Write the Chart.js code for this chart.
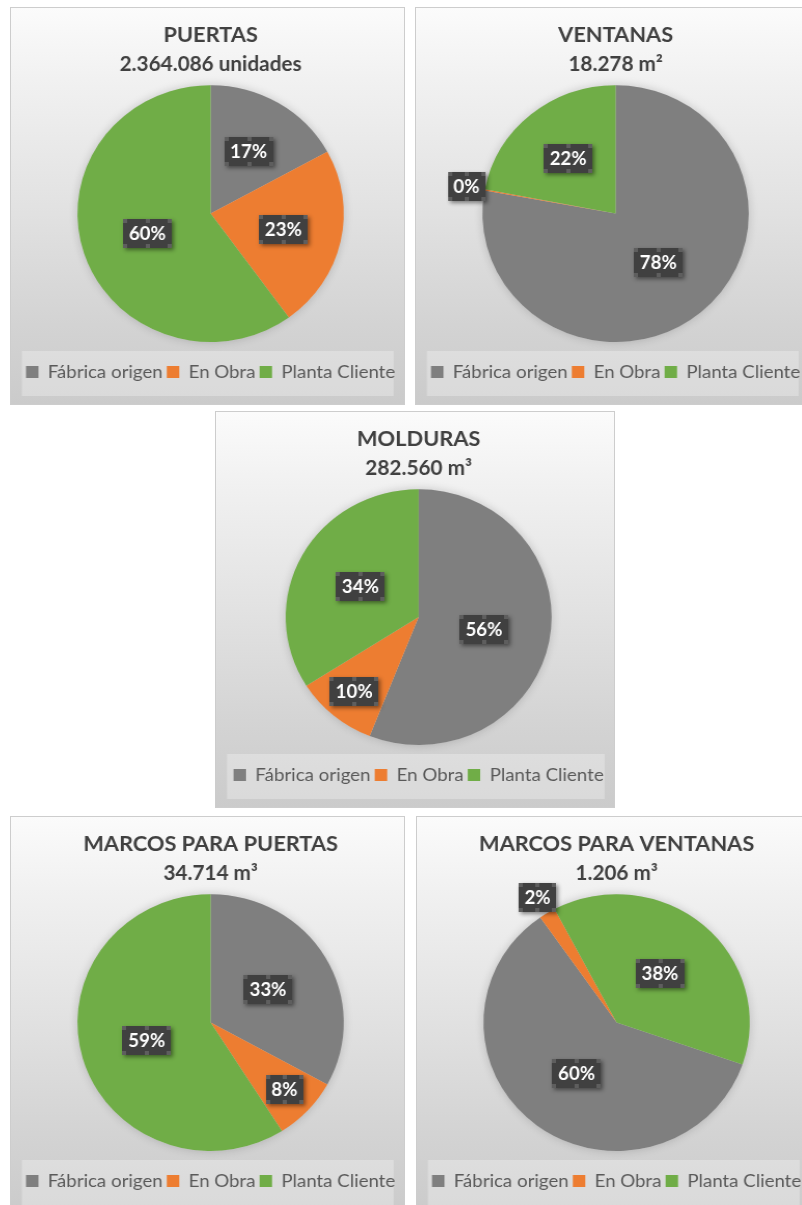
<!DOCTYPE html>
<html>
<head>
<meta charset="utf-8">
<script src="https://cdn.jsdelivr.net/npm/chart.js@4.4.1/dist/chart.umd.min.js"></script>
<style>
  html, body { margin: 0; padding: 0; background: #ffffff; }
  body { width: 802px; height: 1205px; overflow: hidden; position: relative; }
  .panel {
    position: absolute; box-sizing: border-box; overflow: hidden;
    border: 1px solid #cdcdcd;
    background: linear-gradient(180deg, #fbfbfb 0%, #f1f1f1 18%, #e2e2e2 50%, #d3d3d3 80%, #cbcbcb 100%);
  }
  .inner { position: absolute; left: 0; top: 0; transform-origin: 0 0; transform: scaleX(1.037); }
</style>
</head>
<body>
<div class="panel" id="p1" style="left:10px;top:7px;width:395px;height:398px"><div class="inner"><canvas id="c1"></canvas></div></div>
<div class="panel" id="p2" style="left:415px;top:7px;width:395px;height:398px"><div class="inner"><canvas id="c2"></canvas></div></div>
<div class="panel" id="p3" style="left:215px;top:411px;width:400px;height:397px"><div class="inner"><canvas id="c3"></canvas></div></div>
<div class="panel" id="p4" style="left:10px;top:816px;width:395px;height:398px"><div class="inner"><canvas id="c4"></canvas></div></div>
<div class="panel" id="p5" style="left:416px;top:816px;width:395px;height:398px"><div class="inner"><canvas id="c5"></canvas></div></div>
<script>
// ---------- DATA ----------
const categories = ['Fábrica origen', 'En Obra', 'Planta Cliente'];

const chartTitles = ['PUERTAS', 'VENTANAS', 'MOLDURAS', 'MARCOS PARA PUERTAS', 'MARCOS PARA VENTANAS'];
const chartSubtitles = ['2.364.086 unidades', '18.278 m²', '282.560 m³', '34.714 m³', '1.206 m³'];

// shares (%) per category: Fábrica origen, En Obra, Planta Cliente
const puertasValues        = [17, 23, 60];
const ventanasValues       = [78, 0.15, 22];
const moldurasValues       = [56, 10, 34];
const marcosPuertasValues  = [33, 8, 59];
const marcosVentanasValues = [60, 2, 38];

const firstSliceAngles = [0, 0, 0, 0, 109];

// ---------- STYLE ----------
const sliceColors = ['#7f7f7f', '#ed7d31', '#70ad47'];
const SCALE_X = 1.037;
Chart.defaults.font.family = 'Lato, "Open Sans", sans-serif';

// soft shadow under the pie
const pieShadow = {
  id: 'pieShadow',
  beforeDatasetsDraw(chart) {
    const arc = chart.getDatasetMeta(0).data[0];
    if (!arc) return;
    const { x, y, outerRadius } = arc.getProps(['x', 'y', 'outerRadius'], true);
    const ctx = chart.ctx;
    ctx.save();
    ctx.shadowColor = 'rgba(0,0,0,0.18)';
    ctx.shadowBlur = 10;
    ctx.beginPath();
    ctx.arc(x, y, outerRadius, 0, Math.PI * 2);
    ctx.fillStyle = '#d0d0d0';
    ctx.fill();
    ctx.restore();
  }
};

// light box behind the legend
const legendBox = {
  id: 'legendBox',
  beforeDraw(chart) {
    const lg = chart.legend;
    if (!lg) return;
    const ctx = chart.ctx;
    ctx.save();
    ctx.fillStyle = 'rgba(255,255,255,0.28)';
    ctx.fillRect(10.5, lg.top + 9, chart.width - 20.5, 45);
    ctx.restore();
  }
};

// dark percentage label boxes
const sliceLabels = {
  id: 'sliceLabels',
  afterDatasetsDraw(chart) {
    const ctx = chart.ctx;
    const meta = chart.getDatasetMeta(0);
    const data = chart.data.datasets[0].data;
    const total = data.reduce((a, b) => a + b, 0);
    meta.data.forEach((arc, i) => {
      const p = arc.getProps(['x', 'y', 'startAngle', 'endAngle', 'outerRadius'], true);
      const pct = data[i] / total * 100;
      const mid = (p.startAngle + p.endAngle) / 2;
      let r;
      if (pct < 5) r = p.outerRadius + 18;
      else if (pct < 15) r = p.outerRadius * 0.76;
      else if (pct < 25) r = p.outerRadius * 0.56;
      else r = p.outerRadius * 0.5;
      const cx = p.x + Math.cos(mid) * r;
      const cy = p.y + Math.sin(mid) * r;
      const text = Math.round(pct) + '%';
      ctx.save();
      ctx.font = 'bold 18px Lato, sans-serif';
      const tw = ctx.measureText(text).width;
      const w = Math.round(tw + 11), h = 29;
      const bx = Math.round(cx - w / 2), by = Math.round(cy - h / 2);
      ctx.shadowColor = 'rgba(0,0,0,0.45)';
      ctx.shadowBlur = 4;
      ctx.shadowOffsetX = 2;
      ctx.shadowOffsetY = 2;
      ctx.fillStyle = '#404040';
      ctx.fillRect(bx, by, w, h);
      ctx.shadowColor = 'transparent';
      ctx.fillStyle = '#5e5e5e';
      const hs = 4;
      [[bx, by], [bx + w / 2 - hs / 2, by], [bx + w - hs, by],
       [bx, by + h - hs], [bx + w / 2 - hs / 2, by + h - hs], [bx + w - hs, by + h - hs]]
        .forEach(([hx, hy]) => ctx.fillRect(Math.round(hx), Math.round(hy), hs, hs));
      ctx.fillStyle = '#ffffff';
      ctx.textAlign = 'center';
      ctx.textBaseline = 'middle';
      ctx.fillText(text, cx, by + h / 2 + 1);
      ctx.restore();
    });
  }
};

function makePie(canvasId, panelId, title, subtitle, values, rotation) {
  const panel = document.getElementById(panelId);
  const inner = panel.querySelector('.inner');
  const innerW = (panel.clientWidth) / SCALE_X;
  inner.style.width = innerW + 'px';
  inner.style.height = panel.clientHeight + 'px';
  return new Chart(document.getElementById(canvasId), {
    type: 'pie',
    data: {
      labels: categories,
      datasets: [{
        data: values,
        backgroundColor: sliceColors,
        borderWidth: 0,
        hoverOffset: 0
      }]
    },
    options: {
      responsive: true,
      maintainAspectRatio: false,
      animation: false,
      events: [],
      rotation: rotation,
      layout: { padding: { left: 6, right: 0, top: 0, bottom: 13 } },
      plugins: {
        tooltip: { enabled: false },
        title: {
          display: true, text: title, color: '#404040',
          font: { size: 21, weight: 'bold', lineHeight: 1.2 },
          padding: { top: 15, bottom: 0 }
        },
        subtitle: {
          display: true, text: subtitle, color: '#404040',
          font: { size: 20, weight: 'bold', lineHeight: 1.2 },
          padding: { top: 4, bottom: 9 }
        },
        legend: {
          display: true, position: 'bottom',
          title: { display: true, text: '', font: { size: 10, lineHeight: 1 }, padding: { top: 6, bottom: 1 } },
          labels: {
            color: '#595959', boxWidth: 12, boxHeight: 12, padding: 4,
            font: { size: 18 }
          }
        }
      }
    },
    plugins: [legendBox, pieShadow, sliceLabels]
  });
}

makePie('c1', 'p1', chartTitles[0], chartSubtitles[0], puertasValues, firstSliceAngles[0]);
makePie('c2', 'p2', chartTitles[1], chartSubtitles[1], ventanasValues, firstSliceAngles[1]);
makePie('c3', 'p3', chartTitles[2], chartSubtitles[2], moldurasValues, firstSliceAngles[2]);
makePie('c4', 'p4', chartTitles[3], chartSubtitles[3], marcosPuertasValues, firstSliceAngles[3]);
makePie('c5', 'p5', chartTitles[4], chartSubtitles[4], marcosVentanasValues, firstSliceAngles[4]);
</script>
</body>
</html>
